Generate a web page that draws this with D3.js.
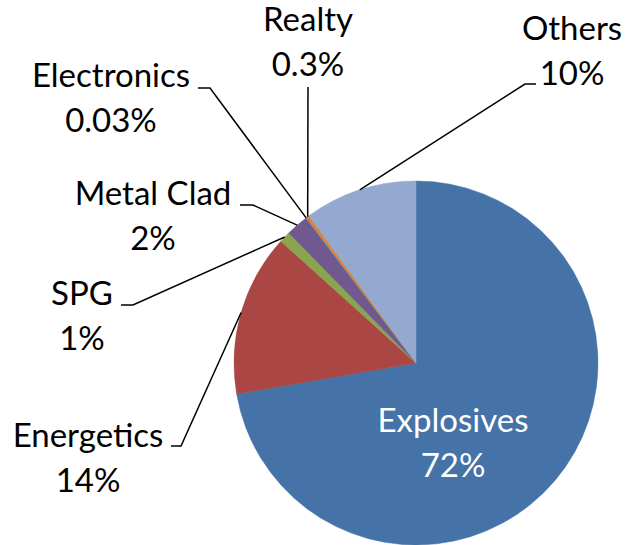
<!DOCTYPE html>
<html>
<head>
<meta charset="utf-8">
<script src="https://cdn.jsdelivr.net/npm/d3@7"></script>
<style>
  body { margin: 0; background: #fff; }
  text { font-family: "Lato", "Open Sans", sans-serif; font-size: 33px; }
</style>
</head>
<body>
<svg id="pieChart" width="627" height="545"></svg>
<script>
// data
var categories = ["Explosives", "Energetics", "SPG", "Metal Clad", "Electronics", "Realty", "Others"];
var shares = [72.3, 14.4, 1.0, 2.0, 0.03, 0.3, 10.0];
var shareLabels = ["72%", "14%", "1%", "2%", "0.03%", "0.3%", "10%"];

var colorArray = ["#4572a7", "#aa4643", "#89a54e", "#71588f", "#4198af", "#db843d", "#93a9cf"];

// label layout: text centre x, first baseline y, elbow point, elbow end x
var labelLayout = [
    null,
    {x: 88, y: 447, ex: 181, ey: 446, hx: 171},
    {x: 82, y: 305, ex: 133, ey: 305, hx: 121},
    {x: 153, y: 205, ex: 253, ey: 205, hx: 240},
    {x: 111, y: 87, ex: 210, ey: 88, hx: 198},
    {x: 308, y: 31, ex: 308, ey: 87, hx: 308},
    {x: 572, y: 40, ex: 525, ey: 84, hx: 536}
];

var cx = 416, cy = 363, radius = 182;
var lineGap = 45;

var svg = d3.select("#pieChart");
var chart = svg.append("g")
    .attr("transform", "translate(" + cx + "," + cy + ")");

var pie = d3.pie().sort(null).value(function(d) { return d; });
var arc = d3.arc().innerRadius(0).outerRadius(radius);

var arcs = pie(shares);

// slices
chart.selectAll(".slice")
    .data(arcs)
    .enter()
    .append("path")
        .attr("class", "slice")
        .attr("d", arc)
        .attr("fill", function(d, i) { return colorArray[i]; })
        .attr("stroke", function(d, i) { return colorArray[i]; })
        .attr("stroke-width", function(d, i) { return i == 4 ? 1.2 : 0.5; });

// leader lines + outside labels
arcs.forEach(function(d, i) {
    var lay = labelLayout[i];
    if (!lay) return;
    var mid = (d.startAngle + d.endAngle) / 2;
    var px = cx + radius * Math.sin(mid);
    var py = cy - radius * Math.cos(mid);

    svg.append("polyline")
        .attr("points", [[px, py], [lay.ex, lay.ey], [lay.hx, lay.ey]].join(" "))
        .attr("fill", "none")
        .attr("stroke", "black")
        .attr("stroke-width", 1.5);

    svg.append("text")
        .attr("x", lay.x)
        .attr("y", lay.y)
        .attr("text-anchor", "middle")
        .text(categories[i]);
    svg.append("text")
        .attr("x", lay.x)
        .attr("y", lay.y + lineGap)
        .attr("text-anchor", "middle")
        .text(shareLabels[i]);
});

// inside label for the big slice
svg.append("text")
    .attr("x", 453)
    .attr("y", 432)
    .attr("text-anchor", "middle")
    .attr("fill", "white")
    .text(categories[0]);
svg.append("text")
    .attr("x", 453)
    .attr("y", 432 + lineGap)
    .attr("text-anchor", "middle")
    .attr("fill", "white")
    .text(shareLabels[0]);
</script>
</body>
</html>
